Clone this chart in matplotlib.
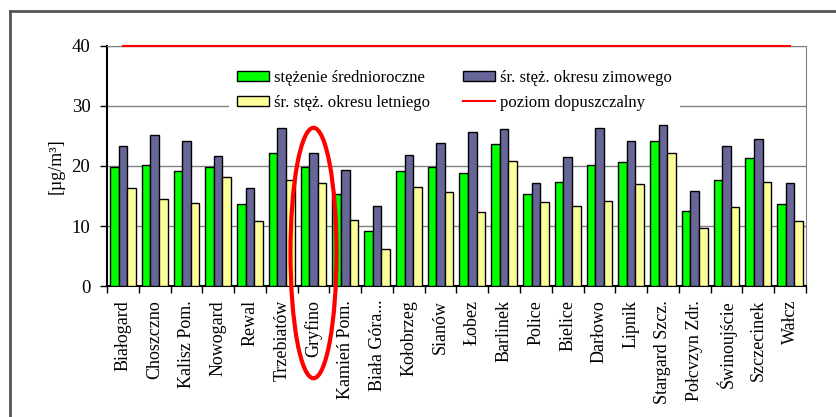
import matplotlib
matplotlib.use("Agg")
from matplotlib import pyplot as plt
from matplotlib.patches import Ellipse
from matplotlib.lines import Line2D
import numpy as np

plt.rcParams['font.family'] = ['Liberation Serif', 'DejaVu Serif']

stations = ["Białogard", "Choszczno", "Kalisz Pom.", "Nowogard", "Rewal", "Trzebiatów",
            "Gryfino", "Kamień Pom.", "Biała Góra...", "Kołobrzeg", "Sianów", "Łobez",
            "Barlinek", "Police", "Bielice", "Darłowo", "Lipnik", "Stargard Szcz.",
            "Połcvzyn Zdr.", "Świnoujście", "Szczecinek", "Wałcz"]
# stezenie srednioroczne
annual = [19.8, 20.2, 19.1, 19.8, 13.6, 22.1, 19.8, 15.3, 9.2, 19.1, 19.8,
          18.9, 23.6, 15.3, 17.4, 20.2, 20.6, 24.2, 12.5, 17.6, 21.3, 13.6]
# okres zimowy
winter = [23.4, 25.1, 24.2, 21.7, 16.3, 26.4, 22.1, 19.3, 13.4, 21.9, 23.8,
          25.7, 26.1, 17.2, 21.5, 26.4, 24.2, 26.9, 15.9, 23.4, 24.5, 17.2]
# okres letni
summer = [16.3, 14.5, 13.8, 18.1, 10.9, 17.7, 17.2, 11.0, 6.1, 16.5, 15.7,
          12.3, 20.8, 14.0, 13.4, 14.2, 17.0, 22.1, 9.6, 13.1, 17.4, 10.9]
limit = 40

fig = plt.figure(figsize=(8.36, 4.17), dpi=100)
ax = fig.add_axes([0.128, 0.314, 0.836, 0.576])

x = np.arange(len(stations))
w = 0.27
ax.bar(x - w, annual, w, color="#00ff00", edgecolor="black", linewidth=1, label="stężenie średnioroczne", zorder=3)
ax.bar(x, winter, w, color="#666699", edgecolor="black", linewidth=1, label="śr. stęż. okresu zimowego", zorder=3)
ax.bar(x + w, summer, w, color="#ffff99", edgecolor="black", linewidth=1, label="śr. stęż. okresu letniego", zorder=3)
ax.plot(x, [limit] * len(x), color="red", linewidth=1.5, label="poziom dopuszczalny", zorder=4, clip_on=False)

ax.set_xlim(-0.5, len(x) - 0.5)
ax.set_ylim(0, 40)
ax.set_yticks([0, 10, 20, 30, 40])
ax.yaxis.grid(True, color="#808080", linewidth=1, zorder=0)
ax.set_axisbelow(True)

# ticks between groups, labels at group centres
ax.set_xticks(np.arange(len(x) + 1) - 0.5)
ax.set_xticklabels([])
ax.set_xticks(x, minor=True)
ax.set_xticklabels(stations, minor=True, rotation=90, fontsize=13)
ax.tick_params(axis="x", which="minor", length=0, pad=10)
ax.tick_params(axis="x", which="major", length=5, width=1, direction="out")
ax.tick_params(axis="y", length=5, width=1, labelsize=13.5, pad=7)

ax.spines["left"].set_color("black")
ax.spines["bottom"].set_color("black")
ax.spines["left"].set_linewidth(1.5)
ax.spines["bottom"].set_linewidth(1.5)
ax.spines["top"].set_color("#808080")
ax.spines["right"].set_color("#808080")

ax.set_ylabel("[µg/m³]", fontsize=13, labelpad=5)

leg = ax.legend(handles=[ax.containers[0], ax.containers[2], ax.containers[1], ax.lines[0]],
                ncol=2, loc="upper center", bbox_to_anchor=(0.497, 0.97), fontsize=12,
                frameon=True, fancybox=False, handlelength=1.9, handleheight=0.55,
                handletextpad=0.3, columnspacing=2.0, labelspacing=0.55, borderpad=0.5)
leg.get_frame().set_facecolor("white")
leg.get_frame().set_edgecolor("none")
leg.get_frame().set_alpha(1)
leg.set_zorder(5)

# red ellipse around Gryfino
ell = Ellipse((6, 5.5), 1.45, 41.7, fill=False, edgecolor="red", linewidth=3, clip_on=False, zorder=6)
ax.add_patch(ell)

# outer frame
fig.add_artist(Line2D([0.012, 1.0], [0.974, 0.974], color="#555555", linewidth=2))
fig.add_artist(Line2D([0.012, 0.012], [0.0, 0.974], color="#555555", linewidth=2))

fig.savefig("out.png", dpi=100)
